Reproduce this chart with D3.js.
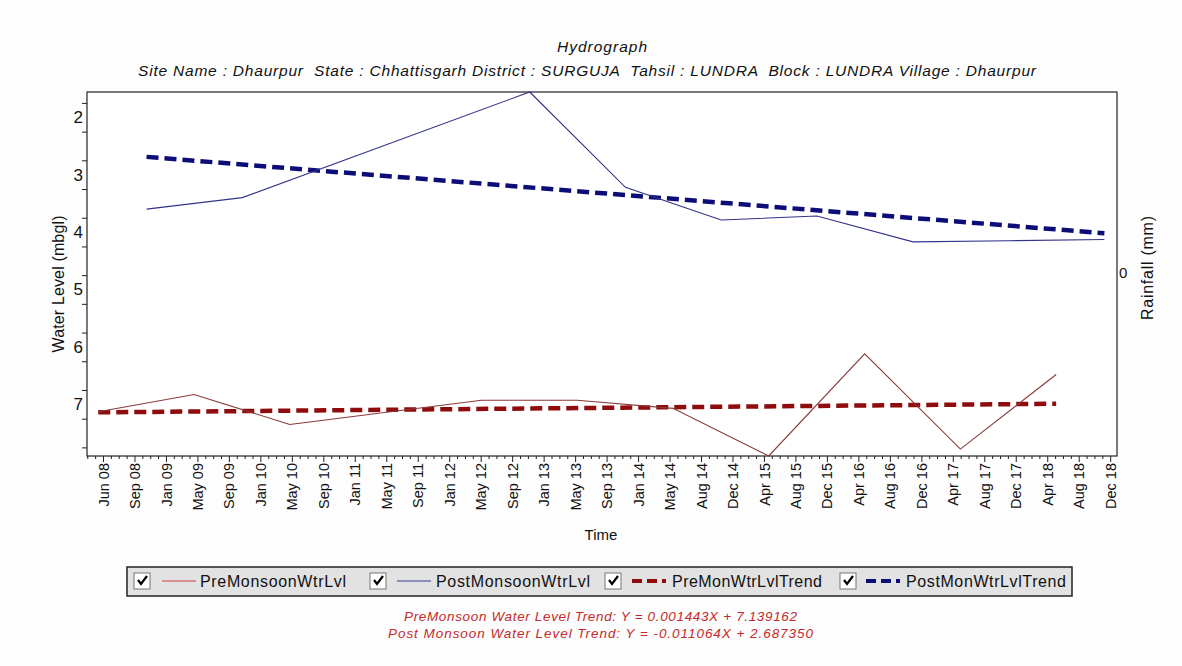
<!DOCTYPE html>
<html>
<head>
<meta charset="utf-8">
<script src="https://cdnjs.cloudflare.com/ajax/libs/d3/7.8.5/d3.min.js"></script>
<style>
  body { margin: 0; background: #fdfdfd; }
  text { font-family: "Liberation Sans", Arial, sans-serif; }
</style>
</head>
<body>
<svg id="chart" width="1182" height="666"></svg>
<script>
// values (water level, metres below ground)
var preDates = ["2008-05-15", "2009-05-15", "2010-05-15", "2012-05-15", "2013-05-15",
                "2014-05-15", "2015-05-15", "2016-05-15", "2017-05-15", "2018-05-15"];
var preLevels = [7.13, 6.83, 7.35, 6.93, 6.93, 7.07, 7.90, 6.12, 7.78, 6.48];

var postDates = ["2008-11-15", "2009-11-15", "2012-11-15", "2013-11-15", "2014-11-15",
                 "2015-11-15", "2016-11-15", "2017-11-15", "2018-11-15"];
var postLevels = [3.60, 3.40, 1.56, 3.22, 3.79, 3.72, 4.17, 4.15, 4.13];

var preTrendDates = ["2008-05-15", "2018-05-15"];
var preTrendLevels = [7.14, 6.99];
var postTrendDates = ["2008-11-15", "2018-11-15"];
var postTrendLevels = [2.69, 4.02];

var tickStart = "2008-06-02";   // one label every 120 days
var tickStepDays = 120;
var tickCount = 33;
var xDomain = ["2008-04-02", "2019-01-02"];
var yDomain = [1.56, 7.90];
var yLabels = [2, 3, 4, 5, 6, 7];

var title = "Hydrograph";
var subtitle = "Site Name : Dhaurpur  State : Chhattisgarh District : SURGUJA  Tahsil : LUNDRA  Block : LUNDRA Village : Dhaurpur";
var legendNames = ["PreMonsoonWtrLvl", "PostMonsoonWtrLvl", "PreMonWtrLvlTrend", "PostMonWtrLvlTrend"];
var equations = ["PreMonsoon Water Level Trend: Y = 0.001443X + 7.139162",
                 "Post Monsoon Water Level Trend: Y = -0.011064X + 2.687350"];

(function() {
  var parse = d3.timeParse("%Y-%m-%d");
  var svg = d3.select("#chart");

  var left = 87, top = 92, right = 1117, bottom = 456;

  var x = d3.scaleTime().domain(xDomain.map(parse)).range([left, right]);
  var y = d3.scaleLinear().domain(yDomain).range([top, bottom]);

  // titles (the original renderer spaces its letters wide)
  svg.append("text").attr("x", 557).attr("y", 52)
    .attr("font-size", 15.5).attr("font-style", "italic").attr("fill", "#111")
    .attr("textLength", 90).attr("lengthAdjust", "spacing").text(title);
  svg.append("text").attr("x", 138).attr("y", 76).style("white-space", "pre")
    .attr("font-size", 15.5).attr("font-style", "italic").attr("fill", "#111")
    .attr("textLength", 898).attr("lengthAdjust", "spacing").text(subtitle);

  // plot frame
  svg.append("rect").attr("x", left).attr("y", top)
    .attr("width", right - left).attr("height", bottom - top)
    .attr("fill", "#fff").attr("stroke", "#222").attr("stroke-width", 1.2);

  // x axis
  var t0 = parse(tickStart);
  var major = d3.range(tickCount).map(function(k) { return d3.timeDay.offset(t0, tickStepDays * k); });
  var minor = d3.range(-2, tickCount * 4).filter(function(k) { return k % 4 !== 0; })
    .map(function(k) { return d3.timeDay.offset(t0, 30 * k); })
    .filter(function(d) { return d >= x.domain()[0] && d <= x.domain()[1]; });

  var gxMinor = svg.append("g").attr("transform", "translate(0," + bottom + ")")
    .call(d3.axisBottom(x).tickValues(minor).tickSize(3).tickFormat(""));
  var gx = svg.append("g").attr("transform", "translate(0," + bottom + ")")
    .call(d3.axisBottom(x).tickValues(major).tickSize(6).tickFormat(d3.timeFormat("%b %y")));
  [gx, gxMinor].forEach(function(g) {
    g.select(".domain").remove();
    g.selectAll("line").attr("stroke", "#222");
  });
  gx.selectAll("text")
    .attr("font-size", 14.5).attr("fill", "#111")
    .attr("text-anchor", "end")
    .attr("transform", "rotate(-90)")
    .attr("x", -7).attr("y", 0).attr("dy", "0.35em");

  svg.append("text").attr("x", 601).attr("y", 540).attr("text-anchor", "middle")
    .attr("font-size", 15).attr("fill", "#111").text("Time");

  // y axis
  var yMinor = d3.range(1.75, 8, 0.5).filter(function(v) { return v <= yDomain[1]; });
  var gy = svg.append("g").attr("transform", "translate(" + left + ",0)")
    .call(d3.axisLeft(y).tickValues(yMinor).tickSize(5).tickFormat(""));
  gy.select(".domain").remove();
  gy.selectAll("line").attr("stroke", "#222");
  var gyl = svg.append("g").attr("transform", "translate(" + left + ",0)")
    .call(d3.axisLeft(y).tickValues(yLabels).tickSize(0).tickPadding(4).tickFormat(d3.format("d")));
  gyl.select(".domain").remove();
  gyl.selectAll("text").attr("font-size", 17).attr("fill", "#111");

  svg.append("text").attr("transform", "translate(64,284) rotate(-90)")
    .attr("text-anchor", "middle").attr("font-size", 16).attr("fill", "#111")
    .attr("textLength", 137).attr("lengthAdjust", "spacing")
    .text("Water Level (mbgl)");

  // right (rainfall) axis
  svg.append("text").attr("x", 1119).attr("y", 278).attr("font-size", 15)
    .attr("fill", "#111").text("0");
  svg.append("text").attr("transform", "translate(1153,268) rotate(-90)")
    .attr("text-anchor", "middle").attr("font-size", 16).attr("fill", "#111")
    .attr("textLength", 104).attr("lengthAdjust", "spacing")
    .text("Rainfall (mm)");

  // series
  function pts(dates, vals) {
    return dates.map(function(d, i) { return [parse(d), vals[i]]; });
  }
  var line = d3.line().x(function(d) { return x(d[0]); }).y(function(d) { return y(d[1]); });

  var plot = svg.append("g");
  plot.append("path").datum(pts(preTrendDates, preTrendLevels)).attr("d", line)
    .attr("fill", "none").attr("stroke", "#8e0c0c").attr("stroke-width", 4.5)
    .attr("stroke-dasharray", "12,6");
  plot.append("path").datum(pts(postTrendDates, postTrendLevels)).attr("d", line)
    .attr("fill", "none").attr("stroke", "#0d0d78").attr("stroke-width", 4.5)
    .attr("stroke-dasharray", "12,6");
  plot.append("path").datum(pts(preDates, preLevels)).attr("d", line)
    .attr("fill", "none").attr("stroke", "#8a3a3a").attr("stroke-width", 1.1);
  plot.append("path").datum(pts(postDates, postLevels)).attr("d", line)
    .attr("fill", "none").attr("stroke", "#33338a").attr("stroke-width", 1.1);

  // legend
  var lg = svg.append("g");
  lg.append("rect").attr("x", 127).attr("y", 567).attr("width", 945).attr("height", 29)
    .attr("fill", "#e2e2e2").attr("stroke", "#222").attr("stroke-width", 1.5);
  var items = [
    { x: 134, lx: 162, tx: 200, w: 146, color: "#c84040", dash: null },
    { x: 370, lx: 397, tx: 436, w: 154, color: "#3a3a96", dash: null },
    { x: 605, lx: 632, tx: 672, w: 150, color: "#8e0c0c", dash: "10,5" },
    { x: 840, lx: 866, tx: 906, w: 160, color: "#0d0d78", dash: "10,5" }
  ];
  items.forEach(function(it, i) {
    var g = lg.append("g");
    g.append("rect").attr("x", it.x).attr("y", 573).attr("width", 16).attr("height", 16)
      .attr("fill", "#fff").attr("stroke", "#777").attr("stroke-width", 1);
    g.append("path").attr("d", "M" + (it.x + 4) + ",580 L" + (it.x + 7) + ",584 L" + (it.x + 13) + ",576")
      .attr("fill", "none").attr("stroke", "#000").attr("stroke-width", 2.2);
    g.append("line").attr("x1", it.lx).attr("x2", it.lx + 34).attr("y1", 581).attr("y2", 581)
      .attr("stroke", it.color).attr("stroke-width", it.dash ? 4 : 1.2)
      .attr("stroke-dasharray", it.dash);
    g.append("text").attr("x", it.tx).attr("y", 587).attr("font-size", 16)
      .attr("fill", "#111").attr("textLength", it.w).attr("lengthAdjust", "spacing")
      .text(legendNames[i]);
  });

  // trend equations
  var eqX = [404, 388], eqW = [393, 425];
  equations.forEach(function(s, i) {
    svg.append("text").attr("x", eqX[i]).attr("y", 621 + 17 * i)
      .attr("font-size", 13.5).attr("font-style", "italic").attr("fill", "#c42a2a")
      .attr("textLength", eqW[i]).attr("lengthAdjust", "spacing").text(s);
  });
})();
</script>
</body>
</html>
